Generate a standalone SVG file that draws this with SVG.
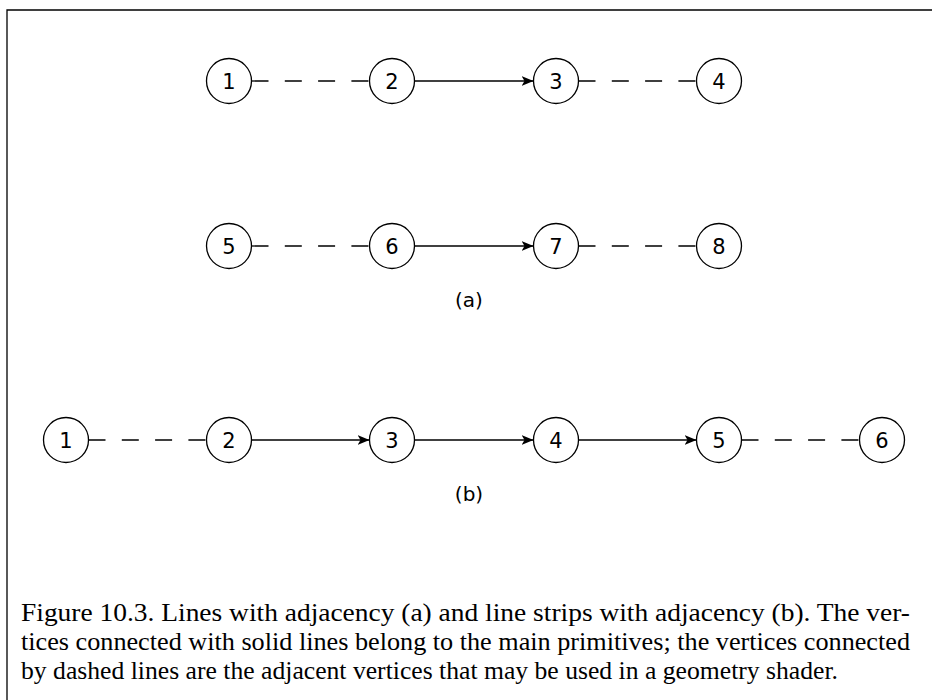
<svg xmlns="http://www.w3.org/2000/svg" width="932" height="700" viewBox="0 0 932 700">
<style>
.n circle{fill:#fff;stroke:#000;stroke-width:1.3}
.n text{font-family:"DejaVu Sans",sans-serif;font-size:21px;text-anchor:middle;fill:#000}
.e line{stroke:#000;stroke-width:1.3}
.d{stroke-dasharray:17 16.3}
.lbl{font-family:"DejaVu Sans",sans-serif;font-size:20px;text-anchor:middle}
.cap{font-family:"Liberation Serif",serif;font-size:26px}
</style>
<defs>
<marker id="ah" viewBox="0 0 12 10" refX="12" refY="5" markerWidth="12" markerHeight="10" markerUnits="userSpaceOnUse" orient="auto">
<path d="M0,0 L12,5 L0,10 L3,5 z" fill="#000"/>
</marker>
</defs>
<rect width="932" height="700" fill="#fff"/>
<path d="M7,700 V10 H932" fill="none" stroke="#000" stroke-width="1.3"/>
<g id="edges" class="e">
<line class="d" x1="251.5" y1="81" x2="369.5" y2="81"/>
<line x1="414.5" y1="81" x2="533.5" y2="81" marker-end="url(#ah)"/>
<line class="d" x1="578.5" y1="81" x2="696.5" y2="81"/>
<line class="d" x1="251.5" y1="246" x2="369.5" y2="246"/>
<line x1="414.5" y1="246" x2="533.5" y2="246" marker-end="url(#ah)"/>
<line class="d" x1="578.5" y1="246" x2="696.5" y2="246"/>
<line class="d" x1="88.5" y1="440" x2="206.5" y2="440"/>
<line x1="251.5" y1="440" x2="369.5" y2="440" marker-end="url(#ah)"/>
<line x1="414.5" y1="440" x2="533.5" y2="440" marker-end="url(#ah)"/>
<line x1="578.5" y1="440" x2="696.5" y2="440" marker-end="url(#ah)"/>
<line class="d" x1="741.5" y1="440" x2="859.5" y2="440"/>
</g>
<g id="a1" class="n"><circle cx="229" cy="81" r="22.5"/><text x="229" y="88.5">1</text></g>
<g id="a2" class="n"><circle cx="392" cy="81" r="22.5"/><text x="392" y="88.5">2</text></g>
<g id="a3" class="n"><circle cx="556" cy="81" r="22.5"/><text x="556" y="88.5">3</text></g>
<g id="a4" class="n"><circle cx="719" cy="81" r="22.5"/><text x="719" y="88.5">4</text></g>
<g id="a5" class="n"><circle cx="229" cy="246" r="22.5"/><text x="229" y="253.5">5</text></g>
<g id="a6" class="n"><circle cx="392" cy="246" r="22.5"/><text x="392" y="253.5">6</text></g>
<g id="a7" class="n"><circle cx="556" cy="246" r="22.5"/><text x="556" y="253.5">7</text></g>
<g id="a8" class="n"><circle cx="719" cy="246" r="22.5"/><text x="719" y="253.5">8</text></g>
<g id="b1" class="n"><circle cx="66" cy="440" r="22.5"/><text x="66" y="447.5">1</text></g>
<g id="b2" class="n"><circle cx="229" cy="440" r="22.5"/><text x="229" y="447.5">2</text></g>
<g id="b3" class="n"><circle cx="392" cy="440" r="22.5"/><text x="392" y="447.5">3</text></g>
<g id="b4" class="n"><circle cx="556" cy="440" r="22.5"/><text x="556" y="447.5">4</text></g>
<g id="b5" class="n"><circle cx="719" cy="440" r="22.5"/><text x="719" y="447.5">5</text></g>
<g id="b6" class="n"><circle cx="882" cy="440" r="22.5"/><text x="882" y="447.5">6</text></g>
<text class="lbl" x="469" y="307">(a)</text>
<text class="lbl" x="469" y="501">(b)</text>
<text class="cap" x="21" y="621" textLength="889" lengthAdjust="spacingAndGlyphs">Figure 10.3. Lines with adjacency (a) and line strips with adjacency (b). The ver-</text>
<text class="cap" x="21" y="650" textLength="889" lengthAdjust="spacingAndGlyphs">tices connected with solid lines belong to the main primitives; the vertices connected</text>
<text class="cap" x="21" y="679" textLength="817" lengthAdjust="spacingAndGlyphs">by dashed lines are the adjacent vertices that may be used in a geometry shader.</text>
</svg>
